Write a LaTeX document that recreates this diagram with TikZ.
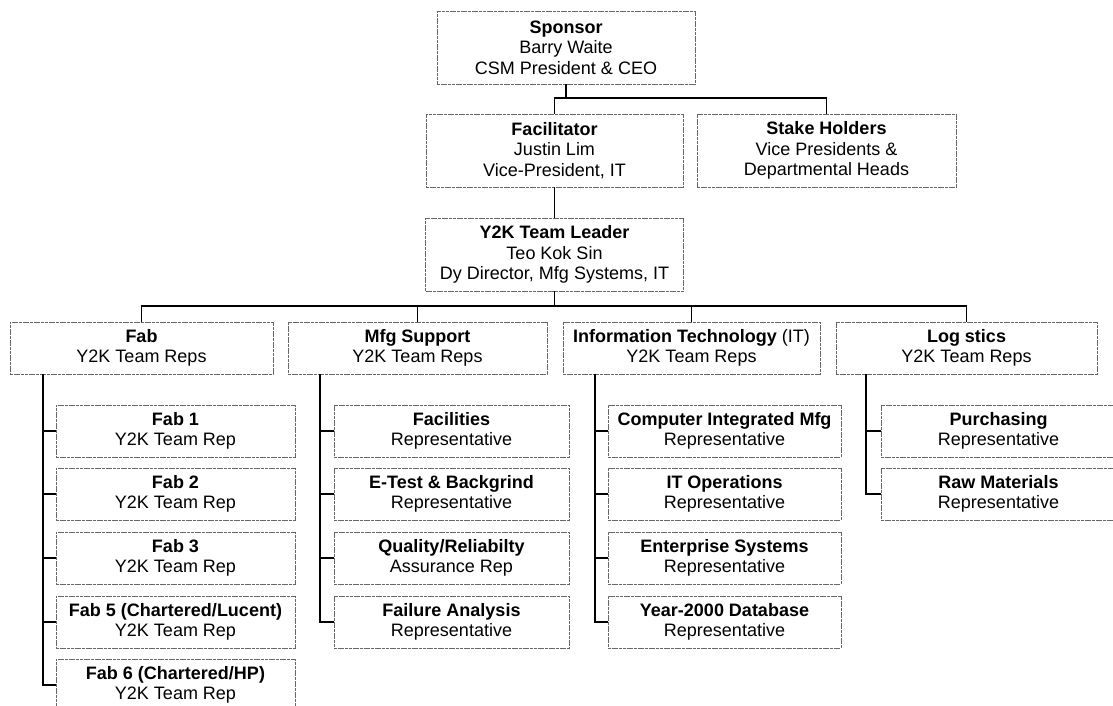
\documentclass[tikz,border=0pt]{standalone}
\usepackage{fontspec}
\setmainfont{Liberation Sans}
\begin{document}
\begin{tikzpicture}[x=1pt,y=-1pt,
  box/.style={draw=black!60, line width=0.9pt, dash pattern=on 3pt off 0.7pt,
    inner sep=0pt, align=center, font=\fontsize{18}{20.5}\selectfont},
  big/.style={box, minimum height=73pt},
  col/.style={box, minimum height=52pt},
  sub/.style={box, minimum height=52pt},
  link/.style={draw=black, line width=1.5pt}]
\useasboundingbox (0,0) rectangle (1113,706);
\clip (0,0) rectangle (1113,706);
\fill[white] (0,0) rectangle (1113,706);

% top levels
\node[big, minimum width=258pt] (sponsor) at (566,47.5) {\textbf{Sponsor}\\Barry Waite\\CSM President \& CEO};
\node[big, minimum width=257pt] (facil) at (554.5,150.5) {\textbf{Facilitator}\\Justin Lim\\Vice-President, IT};
\node[big, minimum width=259pt] (stake) at (826.5,150.5) {\textbf{Stake Holders}\\Vice Presidents \&\\Departmental Heads};
\node[big, minimum width=258pt] (leader) at (554.5,254.5) {\textbf{Y2K Team Leader}\\Teo Kok Sin\\Dy Director, Mfg Systems, IT};

% columns
\node[col, minimum width=263pt] (fab) at (141.5,348) {\textbf{Fab}\\Y2K Team Reps};
\node[col, minimum width=259pt] (mfg) at (417.5,348) {\textbf{Mfg Support}\\Y2K Team Reps};
\node[col, minimum width=257pt] (it) at (691.5,348) {\textbf{Information Technology} (IT)\\Y2K Team Reps};
\node[col, minimum width=261pt] (log) at (966.5,348) {\textbf{Log stics}\\Y2K Team Reps};

% Fab subs
\node[sub, minimum width=239pt] (fab1) at (175.5,431) {\textbf{Fab 1}\\Y2K Team Rep};
\node[sub, minimum width=239pt] (fab2) at (175.5,494) {\textbf{Fab 2}\\Y2K Team Rep};
\node[sub, minimum width=239pt] (fab3) at (175.5,558) {\textbf{Fab 3}\\Y2K Team Rep};
\node[sub, minimum width=239pt] (fab5) at (175.5,622) {\textbf{Fab 5 (Chartered/Lucent)}\\Y2K Team Rep};
\node[sub, minimum width=239pt] (fab6) at (175.5,685) {\textbf{Fab 6 (Chartered/HP)}\\Y2K Team Rep};

% Mfg subs
\node[sub, minimum width=235pt] (mfg1) at (451.5,431) {\textbf{Facilities}\\Representative};
\node[sub, minimum width=235pt] (mfg2) at (451.5,494) {\textbf{E-Test \& Backgrind}\\Representative};
\node[sub, minimum width=235pt] (mfg3) at (451.5,558) {\textbf{Quality/Reliabilty}\\Assurance Rep};
\node[sub, minimum width=235pt] (mfg4) at (451.5,622) {\textbf{Failure Analysis}\\Representative};

% IT subs
\node[sub, minimum width=233pt] (it1) at (724.5,431) {\textbf{Computer Integrated Mfg}\\Representative};
\node[sub, minimum width=233pt] (it2) at (724.5,494) {\textbf{IT Operations}\\Representative};
\node[sub, minimum width=233pt] (it3) at (724.5,558) {\textbf{Enterprise Systems}\\Representative};
\node[sub, minimum width=233pt] (it4) at (724.5,622) {\textbf{Year-2000 Database}\\Representative};

% Logistics subs
\node[sub, minimum width=235pt] (log1) at (998.5,431) {\textbf{Purchasing}\\Representative};
\node[sub, minimum width=235pt] (log2) at (998.5,494) {\textbf{Raw Materials}\\Representative};

% connectors top
\coordinate (j1) at (566,98);
\draw[link] (sponsor.south) -- (j1);
\draw[link] (facil.north) |- (j1) -| (stake.north);
\draw[link] (facil.south) -- (leader.north);
\coordinate (bus) at (554.5,306);
\draw[link] (leader.south) -- (bus);
\draw[link] (fab.north) |- (bus) -| (log.north);
\draw[link] (mfg.north) -- (mfg.north |- bus);
\draw[link] (it.north) -- (it.north |- bus);

% spines
\coordinate (fabs) at (43,374);
\coordinate (mfgs) at (320,374);
\coordinate (its) at (595,374);
\coordinate (logs) at (866,374);
\draw[link] (fabs) |- (fab6.west);
\foreach \n in {fab1,fab2,fab3,fab5} \draw[link] (fabs |- \n.west) -- (\n.west);
\draw[link] (mfgs) |- (mfg4.west);
\foreach \n in {mfg1,mfg2,mfg3} \draw[link] (mfgs |- \n.west) -- (\n.west);
\draw[link] (its) |- (it4.west);
\foreach \n in {it1,it2,it3} \draw[link] (its |- \n.west) -- (\n.west);
\draw[link] (logs) |- (log2.west);
\draw[link] (logs |- log1.west) -- (log1.west);
\end{tikzpicture}
\end{document}
